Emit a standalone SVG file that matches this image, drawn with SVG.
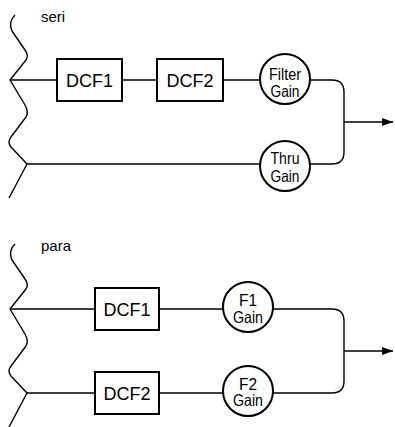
<svg xmlns="http://www.w3.org/2000/svg" width="395" height="427" viewBox="0 0 395 427">
<style>
.w{fill:none;stroke:#000;stroke-width:1.4;stroke-linejoin:round}
.ln{fill:none;stroke:#000;stroke-width:1.4}
.bx{fill:#fff;stroke:#000;stroke-width:2}
.ci{fill:#fff;stroke:#000;stroke-width:2}
.t{font-family:"Liberation Sans",Arial,sans-serif;fill:#000}
.bt{font-size:18px;text-anchor:middle}
.ct{font-size:16.5px;text-anchor:middle}
.lb{font-size:15px}
</style>
<defs>
<path id="wave" class="w" d="M15,15 Q8,22 12,31 L25,50 Q29,56 26,60 L10,80 L25,105 Q29,112 26,117 L11,137 Q7,142 11,147 L27,164 L9,198"/>
<marker id="ah" markerWidth="12" markerHeight="10" refX="11" refY="5" orient="auto" markerUnits="userSpaceOnUse">
<path d="M0,1 L11,5 L0,9 Z" fill="#000"/>
</marker>
</defs>
<text class="t lb" x="41" y="22">seri</text>
<text class="t lb" x="41" y="251">para</text>
<g id="connectors">
<use href="#wave"/>
<use href="#wave" transform="translate(0,229)"/>
<path class="ln" d="M10,80 H57 M122,80 H157 M223,80 H260"/>
<path class="ln" d="M27,164 H260"/>
<path class="ln" d="M310,80 H332 Q344,80 344,92 V152 Q344,164 332,164 H310"/>
<path class="ln" d="M344,122 H393" marker-end="url(#ah)"/>
<path class="ln" d="M10,309 H95 M159,309 H223"/>
<path class="ln" d="M27,393 H95 M159,393 H223"/>
<path class="ln" d="M273,309 H332 Q344,309 344,321 V381 Q344,393 332,393 H273"/>
<path class="ln" d="M344,351 H393" marker-end="url(#ah)"/>
</g>
<g id="seri-dcf1"><rect class="bx" x="57" y="59" width="65" height="42"/><text class="t bt" x="89.5" y="86.5">DCF1</text></g>
<g id="seri-dcf2"><rect class="bx" x="157" y="59" width="66" height="42"/><text class="t bt" x="190" y="86.5">DCF2</text></g>
<g id="filter-gain"><circle class="ci" cx="285" cy="79" r="25"/><text class="t ct" x="285" y="80" textLength="32" lengthAdjust="spacingAndGlyphs">Filter</text><text class="t ct" x="285" y="97" textLength="29" lengthAdjust="spacingAndGlyphs">Gain</text></g>
<g id="thru-gain"><circle class="ci" cx="285" cy="166" r="25"/><text class="t ct" x="285" y="164" textLength="29" lengthAdjust="spacingAndGlyphs">Thru</text><text class="t ct" x="285" y="182" textLength="29" lengthAdjust="spacingAndGlyphs">Gain</text></g>
<g id="para-dcf1"><rect class="bx" x="95" y="288" width="64" height="42"/><text class="t bt" x="127" y="315.5">DCF1</text></g>
<g id="para-dcf2"><rect class="bx" x="95" y="372" width="64" height="42"/><text class="t bt" x="127" y="399.5">DCF2</text></g>
<g id="f1-gain"><circle class="ci" cx="248" cy="307" r="25"/><text class="t ct" x="248" y="306" textLength="18" lengthAdjust="spacingAndGlyphs">F1</text><text class="t ct" x="248" y="322.5" textLength="30" lengthAdjust="spacingAndGlyphs">Gain</text></g>
<g id="f2-gain"><circle class="ci" cx="248" cy="391" r="25"/><text class="t ct" x="248" y="389.5" textLength="18" lengthAdjust="spacingAndGlyphs">F2</text><text class="t ct" x="248" y="406" textLength="30" lengthAdjust="spacingAndGlyphs">Gain</text></g>
</svg>
